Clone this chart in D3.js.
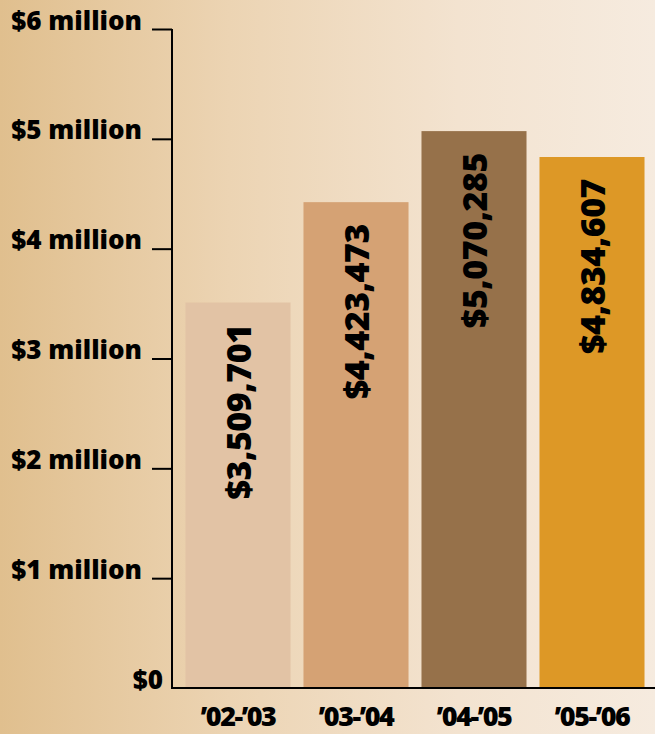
<!DOCTYPE html>
<html><head><meta charset="utf-8">
<script src="https://cdn.jsdelivr.net/npm/d3@7"></script>
<style>html,body{margin:0;padding:0;overflow:hidden;}svg{display:block;}</style>
</head><body>
<script>
const categories = ["’02-’03", "’03-’04", "’04-’05", "’05-’06"];
const values = [3509701, 4423473, 5070285, 4834607];
const barColors = ["#e2c3a5", "#d5a274", "#96714a", "#dd9826"];
const tickValues = [0, 1e6, 2e6, 3e6, 4e6, 5e6, 6e6];
const tickLabels = ["$0", "$1 million", "$2 million", "$3 million", "$4 million", "$5 million", "$6 million"];

const W = 655, H = 734;
const svg = d3.select("body").append("svg").attr("width", W).attr("height", H);
const defs = svg.append("defs");
const g = defs.append("linearGradient").attr("id", "bg").attr("x1", "0").attr("x2", "1").attr("y1", "0").attr("y2", "0");
g.append("stop").attr("offset", "0%").attr("stop-color", "#e0bf8e");
g.append("stop").attr("offset", "35%").attr("stop-color", "#ecd4b3");
g.append("stop").attr("offset", "70%").attr("stop-color", "#f3e3d0");
g.append("stop").attr("offset", "100%").attr("stop-color", "#f6ebdf");
svg.append("rect").attr("width", W).attr("height", H).attr("fill", "url(#bg)");

const font = "'Open Sans', 'DejaVu Sans', sans-serif";
const x = d3.scaleBand().domain(categories).range([179, 651]).paddingInner(0.11).paddingOuter(0.055);
const y = d3.scaleLinear().domain([0, 6e6]).range([688, 29]);

// bars
svg.selectAll("rect.bar").data(values).join("rect").attr("class", "bar")
  .attr("x", (d, i) => x(categories[i])).attr("width", x.bandwidth())
  .attr("y", d => y(d)).attr("height", d => y(0) - y(d))
  .attr("fill", (d, i) => barColors[i]);

// value labels
const fmt = d3.format("$,");
svg.selectAll("text.val").data(values).join("text").attr("class", "val")
  .attr("transform", (d, i) => `translate(${x(categories[i]) + x.bandwidth() / 2},${y(d) + 22}) rotate(-90)`)
  .attr("text-anchor", "end").attr("dominant-baseline", "central")
  .style("font-family", font).style("font-weight", 800).style("font-size", "34px")
  .style("letter-spacing", "-0.5px")
  .attr("fill", "#000").text(d => fmt(d));

// y axis
const yAxis = d3.axisLeft(y).tickValues(tickValues).tickSize(20).tickPadding(10)
  .tickFormat((d, i) => tickLabels[i]);
const ya = svg.append("g").attr("transform", "translate(172,0)").call(yAxis);
ya.select(".domain").remove();
ya.selectAll(".tick line").attr("stroke", "#000").attr("stroke-width", 2);
ya.selectAll(".tick text").attr("fill", "#000").attr("dy", "0")
  .style("font-family", font).style("font-weight", 800).style("font-size", "26px");
ya.selectAll(".tick").filter(d => d === 0).select("line").remove();
ya.selectAll(".tick").filter(d => d === 0).select("text").attr("x", -9);
svg.append("line").attr("x1", 172).attr("x2", 172).attr("y1", y(6e6)).attr("y2", y(0) + 1)
  .attr("stroke", "#000").attr("stroke-width", 2);
svg.append("line").attr("x1", 171).attr("x2", W).attr("y1", y(0)).attr("y2", y(0))
  .attr("stroke", "#000").attr("stroke-width", 2);

// x axis labels
const xAxis = d3.axisBottom(x).tickSize(0).tickPadding(0);
const xa = svg.append("g").attr("transform", `translate(0,${y(0)})`).call(xAxis);
xa.select(".domain").remove();
xa.selectAll(".tick text").attr("fill", "#000").attr("y", 38).attr("dy", "0")
  .style("font-family", font).style("font-weight", 800).style("font-size", "27px").style("letter-spacing", "-1.5px");
</script>
</body></html>
